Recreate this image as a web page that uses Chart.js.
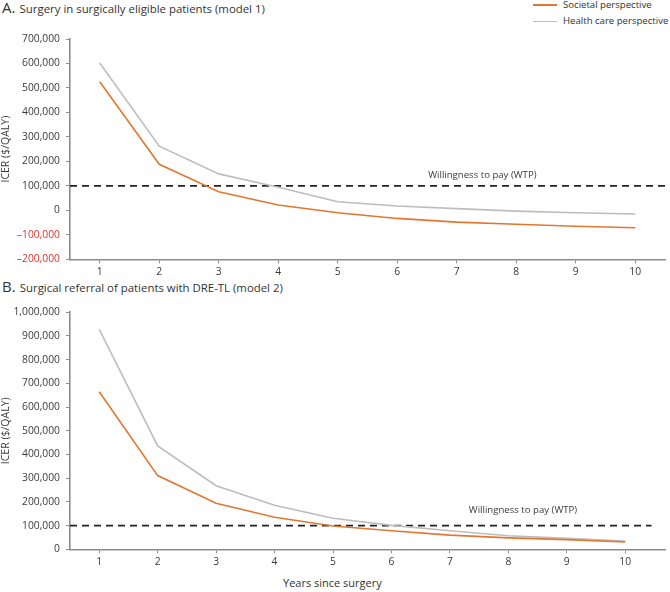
<!DOCTYPE html>
<html>
<head>
<meta charset="utf-8">
<script src="https://cdn.jsdelivr.net/npm/chart.js@4/dist/chart.umd.min.js"></script>
<style>
  html, body { margin:0; padding:0; background:#fff; }
  body { width:670px; height:592px; position:relative; overflow:hidden; font-family:"Open Sans", sans-serif; color:#333; }
  canvas { position:absolute; left:0; }
  .t { position:absolute; white-space:nowrap; }
  .big { font-size:15px; }
  .sub { font-size:11.4px; }
  .leg { position:absolute; font-size:9.6px; color:#333; white-space:nowrap; }
  .leg span.l { display:inline-block; width:24px; height:0; vertical-align:middle; margin-right:6px; }
</style>
</head>
<body>
<div class="t" style="left:2px;top:-4px;"><span class="big">A.</span> <span class="sub">Surgery in surgically eligible patients (model 1)</span></div>
<div class="t" style="left:2px;top:275px;"><span class="big">B.</span> <span class="sub">Surgical referral of patients with DRE-TL (model 2)</span></div>
<div class="leg" style="left:533px;top:-2px;"><span class="l" style="border-top:2px solid #e2772f;"></span>Societal perspective</div>
<div class="leg" style="left:533px;top:14px;"><span class="l" style="border-top:1.5px solid #bdbdbd;"></span>Health care perspective</div>
<div class="t" style="left:283px;top:575px;font-size:11px;">Years since surgery</div>
<canvas id="c1" width="670" height="280" style="top:0"></canvas>
<canvas id="c2" width="670" height="312" style="top:280px"></canvas>
<script>
// ---- data ----
const years = [1, 2, 3, 4, 5, 6, 7, 8, 9, 10];
const societalA = [525000, 188000, 76000, 22000, -10000, -33000, -48000, -57000, -65000, -71000];
const healthA   = [602000, 262000, 149000, 94000, 35000, 18000, 7000, -3000, -10000, -15000];
const societalB = [665000, 311000, 194000, 135000, 98000, 78000, 60000, 48000, 41000, 31000];
const healthB   = [928000, 436000, 268000, 186000, 131000, 101000, 78000, 57000, 46000, 35000];
const wtp = 100000;
const yTicksA = [-200000, -100000, 0, 100000, 200000, 300000, 400000, 500000, 600000, 700000];
const yTicksB = [0, 100000, 200000, 300000, 400000, 500000, 600000, 700000, 800000, 900000, 1000000];
const seriesNames = ['Societal perspective', 'Health care perspective'];
const wtpLabel = 'Willingness to pay (WTP)';
const yTitle = 'ICER ($/QALY)';

const ORANGE = '#e2772f', GREY = '#bdbdbd', AXIS = '#8c8c8c', TXT = '#3a3a3a', RED = '#d8342c';
const FONT = '"Open Sans", sans-serif';

function fmt(v) {
  if (v === 0) return '0';
  const s = Math.abs(v).toLocaleString('en-US');
  return (v < 0 ? '\u2013' : '') + s;
}

function wtpLabelPlugin(xVal, dy) {
  return {
    id: 'wtpLabel',
    afterDatasetsDraw(chart) {
      const ctx = chart.ctx;
      const x = chart.scales.x.getPixelForValue(xVal);
      const y = chart.scales.y.getPixelForValue(wtp) - dy;
      ctx.save();
      ctx.font = '9.6px ' + FONT;
      ctx.fillStyle = TXT;
      ctx.textAlign = 'center';
      ctx.textBaseline = 'middle';
      ctx.fillText(wtpLabel, x, y);
      ctx.restore();
    }
  };
}

function makeChart(id, soc, hc, yTicks, xMax, wtpEnd, padTop, xHeight, lblX, lblDy) {
  const toPts = arr => years.map((yr, i) => ({ x: yr, y: arr[i] }));
  return new Chart(document.getElementById(id), {
    type: 'line',
    data: {
      datasets: [
        { label: 'WTP', data: [{ x: 0.5, y: wtp }, { x: wtpEnd, y: wtp }], borderColor: '#222', borderWidth: 1.8, borderDash: [7, 5], pointRadius: 0, order: 3 },
        { label: seriesNames[1], data: toPts(hc), borderColor: GREY, borderWidth: 1.6, pointRadius: 0, tension: 0, order: 2 },
        { label: seriesNames[0], data: toPts(soc), borderColor: ORANGE, borderWidth: 1.6, pointRadius: 0, tension: 0, order: 1 }
      ]
    },
    options: {
      responsive: false,
      animation: false,
      devicePixelRatio: 1,
      layout: { padding: { top: padTop, right: 5, left: 0, bottom: 0 } },
      plugins: { legend: { display: false }, tooltip: { enabled: false } },
      scales: {
        x: {
          type: 'linear', min: 0.5, max: xMax,
          afterBuildTicks: s => { s.ticks = years.map(v => ({ value: v })); },
          afterFit: s => { s.height = xHeight; },
          grid: { drawOnChartArea: false, drawTicks: true, tickLength: 4, color: AXIS, lineWidth: 1 },
          border: { display: true, color: AXIS, width: 1.6 },
          ticks: { color: TXT, font: { family: FONT, size: 10.3 }, padding: 3, maxRotation: 0, autoSkip: false }
        },
        y: {
          type: 'linear', min: yTicks[0], max: yTicks[yTicks.length - 1],
          afterBuildTicks: s => { s.ticks = yTicks.map(v => ({ value: v })); },
          afterFit: s => { s.width = 70; },
          grid: { drawOnChartArea: false, drawTicks: true, tickLength: 4, color: AXIS, lineWidth: 1 },
          border: { display: true, color: AXIS, width: 1.6 },
          ticks: { color: c => (c.tick && c.tick.value < 0 ? RED : TXT), font: { family: FONT, size: 10.3 }, padding: 6, callback: v => fmt(v) },
          title: { display: true, text: yTitle, color: TXT, font: { family: FONT, size: 10.5 }, padding: 0 }
        }
      }
    },
    plugins: [wtpLabelPlugin(lblX, lblDy)]
  });
}

makeChart('c1', societalA, healthA, yTicksA, 10.5, 10.5, 39, 20.7, 7.43, 11);
makeChart('c2', societalB, healthB, yTicksB, 10.68, 10.45, 32.3, 42.7, 8.25, 15.5);
</script>
</body>
</html>
